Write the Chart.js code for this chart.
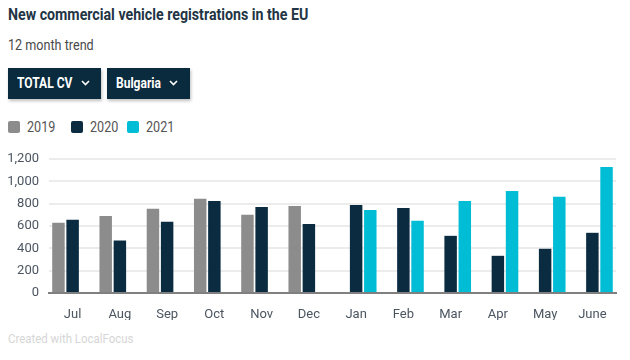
<!DOCTYPE html>
<html>
<head>
<meta charset="utf-8">
<script src="https://cdn.jsdelivr.net/npm/chart.js@4/dist/chart.umd.min.js"></script>
<style>
    body { margin: 0; width: 630px; height: 360px; background: #fff; font-family: Roboto, "Noto Sans", sans-serif; overflow: hidden; position: relative; }
    .cond { display: inline-block; transform-origin: left center; white-space: nowrap; }
    #title { position: absolute; left: 8px; top: 4px; font-size: 17px; font-weight: 700; color: #233545; }
    #subtitle { position: absolute; left: 8px; top: 37px; font-size: 14px; color: #4a4a4a; }
    .dd { position: absolute; top: 68px; height: 31px; background: #0a2a3e; color: #fff; box-shadow: 1px 2px 3px rgba(0,0,0,0.25); font-size: 14px; font-weight: 700; line-height: 31px; }
    .dd .cond { position: absolute; left: 9px; top: 0; }
    .dd svg { position: absolute; top: 12px; }
    #legend { position: absolute; left: 8px; top: 118px; height: 16px; font-size: 14px; color: #555; }
    .lg { position: absolute; top: 0; white-space: nowrap; }
    .lg i { position: absolute; top: 3px; left: 0; width: 12px; height: 12px; border-radius: 2px; }
    .lg span { position: absolute; left: 19px; top: 0; line-height: 18px; }
    #wrap { position: absolute; left: 0; top: 140px; width: 630px; height: 180px; }
    #credit { position: absolute; left: 8px; top: 331px; font-size: 13px; color: #d6d6d6; }
</style>
</head>
<body>
<div id="title"><span class="cond" style="transform: scaleX(0.835)">New commercial vehicle registrations in the EU</span></div>
<div id="subtitle"><span class="cond" style="transform: scaleX(0.9)">12 month trend</span></div>
<div class="dd" style="left: 8px; width: 93px;"><span class="cond" style="transform: scaleX(0.86)">TOTAL CV</span>
    <svg width="9" height="6" style="left: 73px;"><polyline points="1,1 4.5,4.5 8,1" fill="none" stroke="#fff" stroke-width="1.6"/></svg></div>
<div class="dd" style="left: 107px; width: 83px;"><span class="cond" style="transform: scaleX(0.86)">Bulgaria</span>
    <svg width="9" height="6" style="left: 62px;"><polyline points="1,1 4.5,4.5 8,1" fill="none" stroke="#fff" stroke-width="1.6"/></svg></div>
<div id="legend"></div>
<div id="wrap"><canvas id="chart"></canvas></div>
<div id="credit"><span class="cond" style="transform: scaleX(0.88)">Created with LocalFocus</span></div>

<script>
const months = ["Jul", "Aug", "Sep", "Oct", "Nov", "Dec", "Jan", "Feb", "Mar", "Apr", "May", "June"];
const years = ["2019", "2020", "2021"];
const values2019 = [630, 690, 755, 845, 700, 780, null, null, null, null, null, null];
const values2020 = [655, 470, 637, 825, 771, 619, 789, 762, 512, 333, 396, 539];
const values2021 = [null, null, null, null, null, null, 744, 646, 825, 914, 861, 1129];
const yearColors = ["#8c8c8c", "#0a2b40", "#00bdd6"];

const series = [values2019, values2020, values2021];

function buildLegend() {
    const legend = document.getElementById("legend");
    const offsets = [0, 63, 119];
    years.forEach((y, i) => {
        const item = document.createElement("div");
        item.className = "lg";
        item.style.left = offsets[i] + "px";
        item.innerHTML = `<i style="background:${yearColors[i]}"></i><span class="cond" style="transform: scaleX(0.9)">${y}</span>`;
        legend.appendChild(item);
    });
}

function drawChart() {
    const tickFont = { family: "Roboto", size: 13 };

    new Chart(document.getElementById("chart"), {
        type: "bar",
        data: {
            labels: months,
            datasets: years.map((y, i) => ({
                label: y,
                data: series[i],
                backgroundColor: yearColors[i],
                categoryPercentage: 0.9,
                barPercentage: 0.88
            }))
        },
        options: {
            responsive: true,
            maintainAspectRatio: false,
            animation: false,
            layout: { padding: { top: 19, right: 14, left: 0, bottom: 0 } },
            plugins: {
                legend: { display: false },
                tooltip: { enabled: false }
            },
            scales: {
                x: {
                    grid: { display: false },
                    border: { display: true, color: "#808080", width: 2 },
                    ticks: { color: "#4b5560", font: tickFont, padding: 6 },
                    afterFit: scale => { scale.height = 27; }
                },
                y: {
                    min: 0,
                    max: 1200,
                    ticks: { stepSize: 200, color: "#4b5560", font: tickFont, padding: 10 },
                    grid: { color: "#ececec", lineWidth: 2, drawTicks: false },
                    border: { display: false },
                    afterFit: scale => { scale.width = 49; }
                }
            }
        }
    });
}

buildLegend();
drawChart();
</script>
</body>
</html>
